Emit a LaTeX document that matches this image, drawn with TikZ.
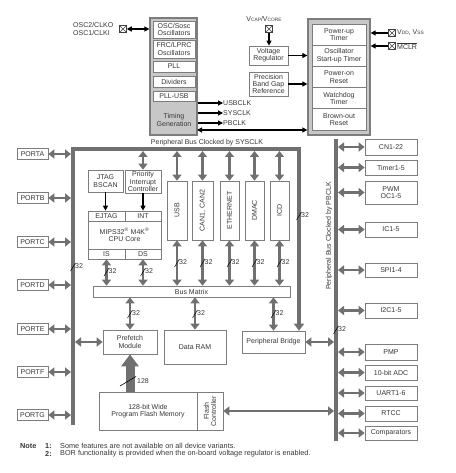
\documentclass[tikz,border=0pt]{standalone}
\usepackage{fontspec}
\setmainfont{Liberation Sans}
\usetikzlibrary{arrows.meta, positioning}

\definecolor{busgray}{RGB}{112,112,112}
\definecolor{boxgray}{RGB}{125,125,125}
\definecolor{txtgray}{RGB}{55,55,55}

\tikzset{
  wd/.pic={
    \draw[black, line width=0.5pt] (-2.5,4) -- (2.5,-4);
    \node[anchor=west] at (2,-0.5) {\tikzpictext};
  }
}

\begin{document}
\begin{tikzpicture}[x=1pt, y=-1pt,
    every node/.append style={font=\fontsize{7}{7.3}\selectfont, text=txtgray, align=center, inner sep=0pt},
    box/.style={draw=boxgray, line width=0.7pt, fill=white},
    outer/.style={draw=boxgray, line width=1.3pt, fill=black!22},
    padx/.style={draw=black!75, line width=0.5pt, minimum size=7pt,
      path picture={\draw[black!75, line width=0.5pt]
        (path picture bounding box.south west) -- (path picture bounding box.north east)
        (path picture bounding box.north west) -- (path picture bounding box.south east);}},
    sig/.style={black, line width=1.1pt, -{Triangle[length=5pt,width=5pt]}},
    sigb/.style={sig, {Triangle[length=5pt,width=5pt]}-{Triangle[length=5pt,width=5pt]}},
    dbl/.style={busgray, line width=2.6pt, {Triangle[length=6pt,width=9pt]}-{Triangle[length=6pt,width=9pt]}},
    bus/.style={busgray, line width=4pt},
    note/.style={anchor=west, font=\fontsize{7.3}{7.5}\selectfont}]

  \useasboundingbox (0,0) rectangle (455,473);

  % clock block
  \node[outer, minimum width=47pt, minimum height=117pt] (clk) at (173.5,76.5) {};
  \node[box, minimum width=42pt, minimum height=17pt] (osc) at (174,29.5) {OSC/Sosc\\Oscillators};
  \node[box, minimum width=42pt, minimum height=18pt] (frc) at (174,49) {FRC/LPRC\\Oscillators};
  \node[box, minimum width=42pt, minimum height=11pt] (pll) at (174,66.5) {PLL};
  \node[box, minimum width=42pt, minimum height=11pt] (div) at (174,81.5) {Dividers};
  \node[box, minimum width=42pt, minimum height=10pt] (pllusb) at (174,96) {PLL-USB};
  \node (tgen) at (174,120) {Timing\\Generation};
  \coordinate (tgo) at (197,130);

  \node[anchor=west, align=left] (oscpin) at (73,29) {OSC2/CLKO\\OSC1/CLKI};
  \node[padx] (posc) at (123,29) {};
  \draw[sigb] (posc) -- (posc -| clk.west);

  \node[anchor=west] (usbclk) at (223,103) {USBCLK};
  \node[anchor=west] (sysclk) at (223,113) {SYSCLK};
  \node[anchor=west] (pbclk) at (223,123) {PBCLK};
  \draw[sig] (usbclk -| clk.east) -- (usbclk.west);
  \draw[sig] (sysclk -| clk.east) -- (sysclk.west);
  \draw[sig] (pbclk -| clk.east) -- (pbclk.west);

  % reset block
  \node[outer, minimum width=62pt, minimum height=116pt] (rst) at (339,77) {};
  \node[box, minimum width=54pt, minimum height=21.2pt] (put) at (339,34.6) {Power-up\\Timer};
  \node[box, minimum width=54pt, minimum height=21.2pt] (ost) at (339,55.8) {Oscillator\\Start-up Timer};
  \node[box, minimum width=54pt, minimum height=21.2pt] (por) at (339,77) {Power-on\\Reset};
  \node[box, minimum width=54pt, minimum height=21.2pt] (wdt) at (339,98.2) {Watchdog\\Timer};
  \node[box, minimum width=54pt, minimum height=21.2pt] (bor) at (339,119.4) {Brown-out\\Reset};
  \draw[sigb] (tgo) -- (tgo -| rst.west);

  \node (vcap) at (264,19) {V{\fontsize{4.8}{5}\selectfont CAP}/V{\fontsize{4.8}{5}\selectfont CORE}};
  \node[padx] (pcap) at (269,29) {};
  \node[box, minimum width=39pt, minimum height=19pt] (vreg) at (268.5,55.5) {Voltage\\Regulator};
  \node[box, minimum width=39pt, minimum height=24pt] (bgap) at (268.5,84) {Precision\\Band Gap\\Reference};
  \draw[sig] (pcap) -- (pcap |- vreg.north);
  \draw[sig] (vreg) -- (vreg -| rst.west);
  \draw[sig] (bgap) -- (bgap -| rst.west);

  \node[padx] (pvdd) at (392,33) {};
  \node[padx] (pmclr) at (392,46) {};
  \node[anchor=west] (vdd) at (397,33) {V{\fontsize{4.8}{5}\selectfont DD}, V{\fontsize{4.8}{5}\selectfont SS}};
  \node[anchor=west] (mclr) at (397,46) {$\overline{\mbox{MCLR}}$};
  \draw[sig] (pvdd) -- (pvdd -| rst.east);
  \draw[sig] (pmclr) -- (pmclr -| rst.east);

  % buses
  \coordinate (btl) at (73,149);
  \coordinate (btr) at (299,149);
  \coordinate (bbl) at (73,425);
  \coordinate (pbt) at (336,139);
  \coordinate (pbb) at (336,441);
  \node (sysbus) at (207,143) {Peripheral Bus Clocked by SYSCLK};
  \node[rotate=90] (pbus) at (329,236) {Peripheral Bus Clocked by PBCLK};

  % lower blocks
  \node[box, minimum width=54pt, minimum height=24pt] (pref) at (130,342) {Prefetch\\Module};
  \node[box, minimum width=62pt, minimum height=34pt] (ram) at (195,347) {Data RAM};
  \node[box, minimum width=63pt, minimum height=22pt] (bridge) at (273.5,342) {Peripheral Bridge};
  \node[box, minimum width=98pt, minimum height=38pt] (flash) at (148,411) {128-bit Wide\\Program Flash Memory};
  \node[box, minimum width=26pt, minimum height=38pt] (fctl) at (210,411) {};
  \node[rotate=90] at (fctl) {Flash\\Controller};

  \draw[bus, -{Triangle[length=7pt,width=10pt]}] (bbl) -- (btl) -- (btr) -- (btr |- bridge.north);
  \draw[bus] (pbt) -- (pbb);

  % ports
  \node[box, minimum width=31pt, minimum height=11pt] (portA) at (32.5,154) {PORTA};
  \node[box, minimum width=31pt, minimum height=11pt] (portB) at (32.5,198) {PORTB};
  \node[box, minimum width=31pt, minimum height=11pt] (portC) at (32.5,242) {PORTC};
  \node[box, minimum width=31pt, minimum height=11pt] (portD) at (32.5,285) {PORTD};
  \node[box, minimum width=31pt, minimum height=11pt] (portE) at (32.5,329) {PORTE};
  \node[box, minimum width=31pt, minimum height=11pt] (portF) at (32.5,372) {PORTF};
  \node[box, minimum width=31pt, minimum height=11pt] (portG) at (32.5,415) {PORTG};
  \path[dbl, shorten >=2pt]
    (portA) edge (portA -| btl)
    (portB) edge (portB -| btl)
    (portC) edge (portC -| btl)
    (portD) edge (portD -| btl)
    (portE) edge (portE -| btl)
    (portF) edge (portF -| btl)
    (portG) edge (portG -| btl);

  % peripherals on PBCLK bus
  \node[box, minimum width=52pt, minimum height=16pt] (cn) at (391,147) {CN1-22};
  \node[box, minimum width=52pt, minimum height=15pt] (tmr) at (391,167.5) {Timer1-5};
  \node[box, minimum width=52pt, minimum height=23pt] (pwm) at (391,192.5) {PWM\\OC1-5};
  \node[box, minimum width=52pt, minimum height=15pt] (ic) at (391,229.5) {IC1-5};
  \node[box, minimum width=52pt, minimum height=14pt] (spi) at (391,270) {SPI1-4};
  \node[box, minimum width=52pt, minimum height=15pt] (iic) at (391,310.5) {I2C1-5};
  \node[box, minimum width=52pt, minimum height=16pt] (pmp) at (391,352) {PMP};
  \node[box, minimum width=52pt, minimum height=15pt] (adc) at (391,372.5) {10-bit ADC};
  \node[box, minimum width=52pt, minimum height=14pt] (uart) at (391,393) {UART1-6};
  \node[box, minimum width=52pt, minimum height=15pt] (rtcc) at (391,413.5) {RTCC};
  \node[box, minimum width=52pt, minimum height=14pt] (cmp) at (391,433) {Comparators};
  \path[dbl, shorten <=2pt]
    (cn -| pbt) edge (cn)
    (tmr -| pbt) edge (tmr)
    (pwm -| pbt) edge (pwm)
    (ic -| pbt) edge (ic)
    (spi -| pbt) edge (spi)
    (iic -| pbt) edge (iic)
    (pmp -| pbt) edge (pmp)
    (adc -| pbt) edge (adc)
    (uart -| pbt) edge (uart)
    (rtcc -| pbt) edge (rtcc)
    (cmp -| pbt) edge (cmp);

  % cpu
  \node[box, minimum width=35pt, minimum height=22pt] (jtag) at (105.5,181) {JTAG\\BSCAN};
  \node[box, minimum width=36pt, minimum height=23pt] (pic) at (143,181.5) {Priority\\Interrupt\\Controller};
  \node[box, minimum width=37pt, minimum height=10pt] (ejtag) at (106.5,216) {EJTAG};
  \node[box, minimum width=36pt, minimum height=10pt] (int) at (143,216) {INT};
  \node[box, minimum width=73pt, minimum height=28pt] (core) at (124.5,235) {MIPS32\textsuperscript{\textregistered} M4K\textsuperscript{\textregistered}\\CPU Core};
  \node[box, minimum width=37pt, minimum height=10pt] (is) at (106.5,254) {IS};
  \node[box, minimum width=36pt, minimum height=10pt] (ds) at (143,254) {DS};
  \draw[sig] (jtag.south) -- (jtag.south |- ejtag.north);
  \draw[sig] (pic) -- (int);

  % bus masters / slaves
  \node[box, minimum width=20pt, minimum height=59pt] (usb) at (177,210.5) {};
  \node[box, minimum width=21pt, minimum height=59pt] (can) at (202.5,210.5) {};
  \node[box, minimum width=19pt, minimum height=59pt] (eth) at (229.5,210.5) {};
  \node[box, minimum width=19pt, minimum height=59pt] (dmac) at (254.5,210.5) {};
  \node[box, minimum width=19pt, minimum height=59pt] (icd) at (279.5,210.5) {};
  \node[rotate=90] at (usb) {USB};
  \node[rotate=90] at (can) {CAN1, CAN2};
  \node[rotate=90] at (eth) {ETHERNET};
  \node[rotate=90] at (dmac) {DMAC};
  \node[rotate=90] at (icd) {ICD};
  \node[box, minimum width=197pt, minimum height=11pt] (bm) at (191.5,291.5) {Bus Matrix};

  \path[dbl]
    (pic |- btl) edge[shorten <=2pt] (pic)
    (usb |- btl) edge[shorten <=2pt] (usb)
    (can |- btl) edge[shorten <=2pt] (can)
    (eth |- btl) edge[shorten <=2pt] (eth)
    (dmac |- btl) edge[shorten <=2pt] (dmac)
    (icd |- btl) edge[shorten <=2pt] (icd)
    (is) edge (is |- bm.north)
    (ds) edge (ds |- bm.north)
    (usb) edge (usb |- bm.north)
    (can) edge (can |- bm.north)
    (eth) edge (eth |- bm.north)
    (dmac) edge (dmac |- bm.north)
    (icd) edge (icd |- bm.north)
    (bm.south -| pref) edge (pref)
    (bm.south -| ram) edge (ram)
    (bm.south -| bridge) edge (bridge)
    (pref -| btl) edge[shorten <=2pt] (pref)
    (bridge) edge[shorten >=2pt] (bridge -| pbt)
    (fctl) edge[shorten >=2pt] (fctl -| pbt);

  \draw[busgray, line width=9pt, -{Triangle[length=12pt,width=17pt]}] (flash.north -| pref) -- (pref.south);
  \draw[black, line width=0.6pt] (120,386) -- (136,376.5);
  \node[anchor=west] (w128) at (137,381) {128};

  % bus widths
  \pic[pic text=32] at (73,267) {wd};
  \pic[pic text=32] at (299,216) {wd};
  \pic[pic text=32] at (336,330) {wd};
  \pic[pic text=32] at (106.5,272) {wd};
  \pic[pic text=32] at (143,272) {wd};
  \pic[pic text=32] at (177,263) {wd};
  \pic[pic text=32] at (202.5,263) {wd};
  \pic[pic text=32] at (229.5,263) {wd};
  \pic[pic text=32] at (254.5,263) {wd};
  \pic[pic text=32] at (279.5,263) {wd};
  \pic[pic text=32] at (130,314) {wd};
  \pic[pic text=32] at (195,314) {wd};
  \pic[pic text=32] at (273.5,314) {wd};

  % notes
  \node[note] (note) at (20,446) {\textbf{Note}};
  \node[note] (n1) at (45,446) {\textbf{1:}};
  \node[note] (t1) at (60,446) {Some features are not available on all device variants.};
  \node[note] (n2) at (45,453.5) {\textbf{2:}};
  \node[note] (t2) at (60,453.5) {BOR functionality is provided when the on-board voltage regulator is enabled.};
\end{tikzpicture}
\end{document}
